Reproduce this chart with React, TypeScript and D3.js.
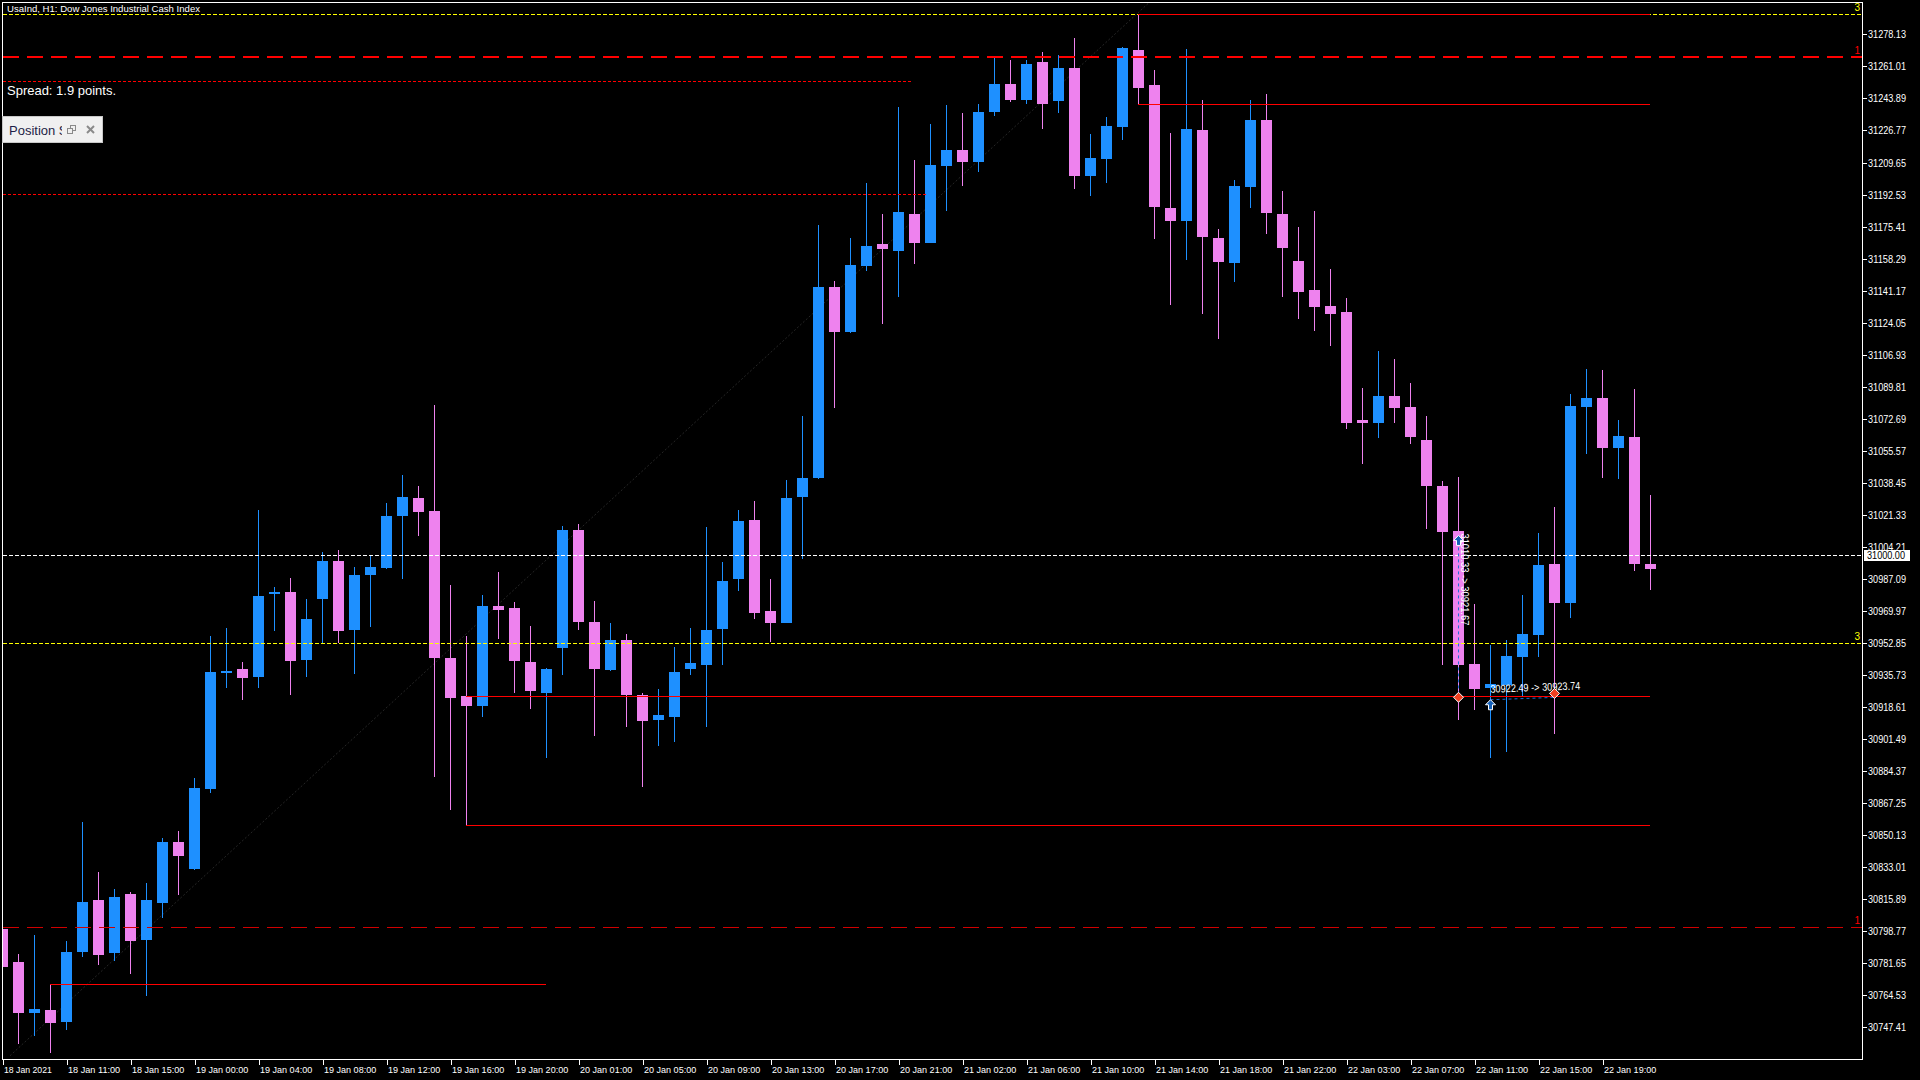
import React from 'react';
import * as d3 from 'd3';

// H1 candles, 18 Jan 2021 .. 22 Jan 2021
const OPEN = [
  30800.0, 30782.3, 30755.3, 30756.7, 30750.5, 30787.5, 30815.3, 30787.0, 30818.6, 30794.1,
  30813.9, 30846.3, 30832.2, 30874.9, 30936.6, 30939.1, 30934.6, 30978.9, 30980.2, 30943.7,
  30976.3, 30996.8, 30960.0, 30989.2, 30993.0, 31020.8, 31030.4, 31023.4, 30944.9, 30924.6,
  30919.2, 30972.7, 30971.6, 30942.7, 30926.2, 30950.2, 31013.3, 30964.1, 30938.5, 30954.5,
  30925.1, 30911.7, 30913.4, 30938.7, 30941.3, 30960.5, 30986.8, 31018.6, 30970.0, 30963.7,
  31030.6, 31040.8, 31143.1, 31118.8, 31154.5, 31166.1, 31162.6, 31182.1, 31166.8, 31208.0,
  31216.3, 31210.1, 31236.4, 31251.6, 31243.1, 31263.4, 31242.5, 31260.2, 31202.5, 31211.5,
  31228.6, 31269.8, 31251.1, 31185.3, 31178.4, 31227.0, 31169.3, 31155.9, 31196.6, 31232.4,
  31182.1, 31157.0, 31141.5, 31133.0, 31129.8, 31072.1, 31070.6, 31084.9, 31079.0, 31061.4,
  31036.8, 31012.7, 30941.7, 30929.0, 30930.6, 30945.6, 30957.3, 30995.1, 30974.3, 31079.0,
  31083.8, 31057.3, 31063.0, 30995.1,
];
const HIGH = [
  30802.2, 30786.6, 30796.6, 30770.4, 30793.8, 30857.1, 30830.3, 30821.2, 30819.6, 30824.4,
  30848.4, 30852.3, 30880.5, 30956.7, 30961.1, 30942.8, 31024.0, 30982.5, 30987.7, 30976.1,
  31001.6, 31002.7, 30993.5, 30999.8, 31027.7, 31042.7, 31036.8, 31080.1, 30983.9, 30956.6,
  30978.5, 30990.8, 30974.8, 30962.0, 30939.5, 31015.4, 31016.5, 30975.3, 30963.6, 30957.7,
  30926.2, 30928.3, 30950.7, 30960.9, 31014.9, 30996.2, 31024.0, 31028.8, 30987.1, 31040.0,
  31074.2, 31176.3, 31146.3, 31169.3, 31198.7, 31182.1, 31239.3, 31211.0, 31230.2, 31240.4,
  31236.1, 31241.1, 31265.5, 31264.4, 31264.4, 31268.7, 31267.1, 31276.2, 31224.9, 31234.0,
  31271.4, 31289.0, 31259.1, 31225.4, 31270.3, 31243.1, 31174.1, 31200.3, 31243.1, 31246.3,
  31194.4, 31175.2, 31183.7, 31152.8, 31137.3, 31089.2, 31108.9, 31104.7, 31091.8, 31074.2,
  31039.5, 31041.6, 30973.7, 30952.0, 30954.5, 30978.5, 31011.7, 31025.6, 31086.0, 31099.3,
  31098.8, 31072.1, 31088.6, 31032.0,
];
const LOW = [
  30775.5, 30738.7, 30743.0, 30733.9, 30746.0, 30785.2, 30780.9, 30782.9, 30776.0, 30764.2,
  30805.9, 30818.3, 30831.5, 30872.8, 30928.7, 30922.3, 30928.7, 30959.2, 30925.0, 30934.6,
  30953.0, 30953.0, 30936.5, 30961.4, 30992.4, 30987.1, 31010.1, 30881.4, 30863.6, 30855.6,
  30913.5, 30955.2, 30926.3, 30917.8, 30891.6, 30935.9, 30959.8, 30903.2, 30937.9, 30908.0,
  30875.9, 30897.8, 30900.0, 30935.8, 30907.7, 30940.8, 30980.5, 30965.5, 30953.2, 30963.6,
  30997.5, 31040.5, 31078.6, 31118.5, 31151.4, 31123.5, 31137.9, 31155.5, 31166.6, 31183.9,
  31197.3, 31204.4, 31234.3, 31242.0, 31240.9, 31227.6, 31236.1, 31195.5, 31191.8, 31198.7,
  31221.7, 31240.9, 31168.8, 31133.5, 31157.6, 31128.7, 31115.3, 31145.8, 31185.3, 31171.5,
  31137.8, 31126.0, 31119.6, 31111.6, 31067.2, 31048.7, 31062.6, 31070.6, 31059.4, 31014.0,
  30941.3, 30911.4, 30917.2, 30891.1, 30894.3, 30924.2, 30945.6, 30904.4, 30966.4, 31053.9,
  31041.2, 31040.7, 30991.5, 30981.4,
];
const CLOSE = [
  30779.7, 30755.3, 30757.1, 30749.9, 30787.5, 30814.2, 30786.1, 30816.9, 30793.6, 30815.3,
  30846.3, 30839.0, 30875.1, 30937.1, 30938.0, 30934.1, 30978.2, 30980.2, 30943.1, 30965.4,
  30996.9, 30959.0, 30989.2, 30993.5, 31020.8, 31030.9, 31022.9, 30945.0, 30923.5, 30919.2,
  30972.7, 30970.5, 30943.3, 30927.2, 30939.0, 31013.3, 30964.1, 30939.0, 30954.5, 30925.1,
  30911.2, 30914.4, 30937.4, 30942.2, 30959.8, 30986.0, 31018.1, 30968.7, 30963.7, 31030.4,
  31041.1, 31143.1, 31118.8, 31154.9, 31165.0, 31163.6, 31183.2, 31166.8, 31208.3, 31216.3,
  31210.1, 31236.7, 31251.6, 31243.1, 31262.3, 31240.9, 31260.2, 31202.5, 31212.1, 31229.2,
  31270.8, 31249.5, 31185.9, 31178.4, 31227.6, 31169.9, 31156.5, 31197.1, 31232.4, 31182.7,
  31164.0, 31140.5, 31132.4, 31128.7, 31070.5, 31070.6, 31084.9, 31078.6, 31063.1, 31036.9,
  31012.4, 30941.3, 30928.5, 30931.0, 30945.9, 30957.7, 30994.6, 30974.3, 31079.5, 31083.8,
  31057.3, 31063.5, 30995.3, 30992.6,
];

const TIME_LABELS = [
  '18 Jan 2021', '18 Jan 11:00', '18 Jan 15:00', '19 Jan 00:00', '19 Jan 04:00', '19 Jan 08:00',
  '19 Jan 12:00', '19 Jan 16:00', '19 Jan 20:00', '20 Jan 01:00', '20 Jan 05:00', '20 Jan 09:00',
  '20 Jan 13:00', '20 Jan 17:00', '20 Jan 21:00', '21 Jan 02:00', '21 Jan 06:00', '21 Jan 10:00',
  '21 Jan 14:00', '21 Jan 18:00', '21 Jan 22:00', '22 Jan 03:00', '22 Jan 07:00', '22 Jan 11:00',
  '22 Jan 15:00', '22 Jan 19:00',
];
const TIME_LABEL_STEP = 4; // one label every 4 bars

const PRICE_TICKS = [
  31278.13, 31261.01, 31243.89, 31226.77, 31209.65, 31192.53, 31175.41, 31158.29, 31141.17,
  31124.05, 31106.93, 31089.81, 31072.69, 31055.57, 31038.45, 31021.33, 31004.21, 30987.09,
  30969.97, 30952.85, 30935.73, 30918.61, 30901.49, 30884.37, 30867.25, 30850.13, 30833.01,
  30815.89, 30798.77, 30781.65, 30764.53, 30747.41,
];

// horizontal objects on the chart
const YELLOW_LEVELS = [31288.8, 30952.6];
const RED_DASH_LEVELS = [31266.2, 30801.1];
const RED_DOT_LEVELS = [31253.2, 31192.8];
const RED_DOT_END_BAR = [56.8, 57.8];
const PRICE_LINE = 31000.0;
const SEG_PRICE = [31289.0, 31240.9, 30924.6, 30855.6, 30770.4];
const SEG_FROM = [71, 71, 29, 29, 3];
const SEG_TO = [103, 103, 103, 103, 34];
const TREND_BARS = [0.5, 71.8];
const TREND_PRICES = [30732.2, 31296.0];

// closed trades
const TRADE_OPEN_BAR = [91, 93];
const TRADE_OPEN_PRICE = [31010.33, 30922.49];
const TRADE_CLOSE_BAR = [91, 97];
const TRADE_CLOSE_PRICE = [30921.67, 30923.74];

const BULL = '#1E90FF';
const BEAR = '#EE82EE';
const FONT = '"Liberation Sans", Arial, sans-serif';

const PL = 2.5, PT = 2.5, PR = 1862.5, PB = 1059.5;

const x = d3.scaleLinear().domain([0, 103]).range([2, 1650]);
const y = d3.scaleLinear().domain([30747.41, 31278.13]).range([1027.3, 34.4]);

const fmt = d3.format('.2f');

const App: React.FC = () => {
  const bars = d3.range(OPEN.length);
  const trendLine = d3
    .line<number>()
    .x((i) => x(TREND_BARS[i]))
    .y((i) => y(TREND_PRICES[i]));

  return (
    <div style={{ position: 'absolute', left: 0, top: 0, width: 1920, height: 1080, background: '#000' }}>
      <svg width={1920} height={1080} style={{ display: 'block', background: '#000' }}>
        <defs>
          <clipPath id="plot">
            <rect x={3} y={3} width={PR - 3} height={PB - 3} />
          </clipPath>
          <clipPath id="posclip">
            <rect x={4} y={118} width={58} height={24} />
          </clipPath>
        </defs>

        <g clipPath="url(#plot)">
          {/* trend line in the background */}
          <path d={trendLine([0, 1]) || ''} stroke="#262626" strokeWidth={1} strokeDasharray="2,2" fill="none" />

          {/* candles */}
          <g shapeRendering="crispEdges">
            {bars.map((i) => {
              const o = OPEN[i], c = CLOSE[i];
              const col = c >= o ? BULL : BEAR;
              const cx = Math.round(x(i));
              const top = Math.round(y(Math.max(o, c)));
              const bot = Math.round(y(Math.min(o, c)));
              return (
                <g key={i}>
                  <line x1={cx + 0.5} x2={cx + 0.5} y1={Math.round(y(HIGH[i]))} y2={Math.round(y(LOW[i]))} stroke={col} strokeWidth={1} />
                  <rect x={cx - 5} y={top} width={11} height={Math.max(2, bot - top)} fill={col} />
                </g>
              );
            })}
          </g>

          {/* horizontal levels */}
          <g shapeRendering="crispEdges">
            {YELLOW_LEVELS.map((p, k) => (
              <line key={'yl' + k} x1={PL} x2={PR} y1={Math.round(y(p)) + 0.5} y2={Math.round(y(p)) + 0.5} stroke="#FFFF00" strokeDasharray="4,2" />
            ))}
            <line x1={PL} x2={PR} y1={Math.round(y(RED_DASH_LEVELS[0]))} y2={Math.round(y(RED_DASH_LEVELS[0]))} stroke="#FF0000" strokeWidth={2} strokeDasharray="16,8" />
            <line x1={PL} x2={PR} y1={Math.round(y(RED_DASH_LEVELS[1])) + 0.5} y2={Math.round(y(RED_DASH_LEVELS[1])) + 0.5} stroke="#D00000" strokeWidth={1} strokeDasharray="16,8" />
            {RED_DOT_LEVELS.map((p, k) => (
              <line key={'rd' + k} x1={PL} x2={x(RED_DOT_END_BAR[k])} y1={Math.round(y(p)) + 0.5} y2={Math.round(y(p)) + 0.5} stroke="#FF0000" strokeDasharray="3,2" />
            ))}
            <line x1={PL} x2={PR} y1={Math.round(y(PRICE_LINE)) + 0.5} y2={Math.round(y(PRICE_LINE)) + 0.5} stroke="#FFFFFF" strokeDasharray="4,2" />
            {SEG_PRICE.map((p, k) => (
              <line key={'sg' + k} x1={x(SEG_FROM[k])} x2={x(SEG_TO[k])} y1={Math.round(y(p)) + 0.5} y2={Math.round(y(p)) + 0.5} stroke="#FF0000" strokeWidth={1} />
            ))}
          </g>

          {/* trades */}
          {TRADE_OPEN_BAR.map((ob, k) => {
            const x0 = Math.round(x(ob)) + 0.5;
            const y0 = y(TRADE_OPEN_PRICE[k]);
            const x1 = Math.round(x(TRADE_CLOSE_BAR[k])) + 0.5;
            const y1 = y(TRADE_CLOSE_PRICE[k]);
            const label = `${fmt(TRADE_OPEN_PRICE[k])} -> ${fmt(TRADE_CLOSE_PRICE[k])}`;
            const vertical = ob === TRADE_CLOSE_BAR[k];
            const ang = (Math.atan2(y1 - y0, x1 - x0) * 180) / Math.PI;
            return (
              <g key={'tr' + k}>
                <line x1={x0} y1={y0} x2={x1} y2={y1} stroke="#1E6FD8" strokeWidth={1} strokeDasharray="3,3" />
                {vertical ? (
                  <text
                    transform={`translate(${x0 + 2},${y0 - 2}) rotate(90)`}
                    fill="#fff"
                    fontFamily={FONT}
                    fontSize={10}
                    textLength={92}
                    lengthAdjust="spacingAndGlyphs"
                  >
                    {label}
                  </text>
                ) : (
                  <text
                    transform={`translate(${x0},${y0 - 7}) rotate(${ang})`}
                    fill="#fff"
                    fontFamily={FONT}
                    fontSize={11}
                    textLength={90}
                    lengthAdjust="spacingAndGlyphs"
                  >
                    {label}
                  </text>
                )}
                {/* buy arrow */}
                <path
                  transform={`translate(${x0},${y0 + (vertical ? 0 : 0)})`}
                  d="M0,0 L5,5 L2,5 L2,10 L-2,10 L-2,5 L-5,5 Z"
                  fill="#1560B8"
                  stroke="#fff"
                  strokeWidth={1}
                />
                {/* close marker */}
                <path
                  transform={`translate(${x1},${y1 - 4})`}
                  d="M0,-5 L5,0 L0,5 L-5,0 Z"
                  fill="#F04020"
                  stroke="#fff"
                  strokeWidth={1}
                />
              </g>
            );
          })}
        </g>

        {/* level labels */}
        <g fontFamily={FONT} fontSize={10} textAnchor="end">
          {YELLOW_LEVELS.map((p, k) => (
            <text key={'yt' + k} x={1860} y={y(p) - 3} fill="#FFFF00">3</text>
          ))}
          {RED_DASH_LEVELS.map((p, k) => (
            <text key={'rt' + k} x={1860} y={y(p) - 3} fill="#FF0000">1</text>
          ))}
        </g>

        {/* frame */}
        <rect x={PL} y={PT} width={PR - PL} height={PB - PT} fill="none" stroke="#fff" strokeWidth={1} shapeRendering="crispEdges" />

        {/* price axis */}
        <g fontFamily={FONT} fontSize={10} fill="#fff">
          {PRICE_TICKS.map((v) => {
            const yy = Math.round(y(v)) + 0.5;
            return (
              <g key={v}>
                <line x1={PR} x2={PR + 4} y1={yy} y2={yy} stroke="#fff" shapeRendering="crispEdges" />
                <text x={1868} y={yy + 3.5} textLength={38} lengthAdjust="spacingAndGlyphs">{fmt(v)}</text>
              </g>
            );
          })}
          <rect x={1864} y={Math.round(y(PRICE_LINE)) - 5} width={46} height={11} fill="#fff" />
          <text x={1867} y={Math.round(y(PRICE_LINE)) + 4} fill="#000" textLength={38} lengthAdjust="spacingAndGlyphs">
            {fmt(PRICE_LINE)}
          </text>
        </g>

        {/* time axis */}
        <g fontFamily={FONT} fontSize={9} fill="#fff">
          {TIME_LABELS.map((t, k) => {
            const xx = Math.round(x(k * TIME_LABEL_STEP)) + 1.5;
            return (
              <g key={t}>
                <line x1={xx} x2={xx} y1={PB} y2={PB + 5} stroke="#fff" shapeRendering="crispEdges" />
                <text x={xx + 0.5} y={1072.5} textLength={t.length * 4.35} lengthAdjust="spacingAndGlyphs">{t}</text>
              </g>
            );
          })}
        </g>

        {/* chart header texts */}
        <text x={7} y={12} fill="#fff" fontFamily={FONT} fontSize={9.5} textLength={193} lengthAdjust="spacingAndGlyphs">
          UsaInd, H1:  Dow Jones Industrial Cash Index
        </text>
        <text x={7} y={94.5} fill="#fff" fontFamily={FONT} fontSize={13} textLength={109} lengthAdjust="spacingAndGlyphs">
          Spread: 1.9 points.
        </text>

        {/* minimised panel */}
        <g>
          <rect x={2.5} y={116.5} width={100} height={26} fill="#F0F0F0" stroke="#C8C8C8" shapeRendering="crispEdges" />
          <g clipPath="url(#posclip)">
            <text x={9} y={134.5} fill="#1E1E46" fontFamily={FONT} fontSize={13}>Position Size</text>
          </g>
          <g stroke="#8A8A8A" fill="none" strokeWidth={1} shapeRendering="crispEdges">
            <rect x={70.5} y={125.5} width={5} height={5} />
            <rect x={67.5} y={128.5} width={5} height={5} fill="#F0F0F0" />
          </g>
          <g stroke="#8A8A8A" strokeWidth={2}>
            <line x1={87} y1={126} x2={94} y2={133} />
            <line x1={94} y1={126} x2={87} y2={133} />
          </g>
        </g>
      </svg>
    </div>
  );
};

export default App;
